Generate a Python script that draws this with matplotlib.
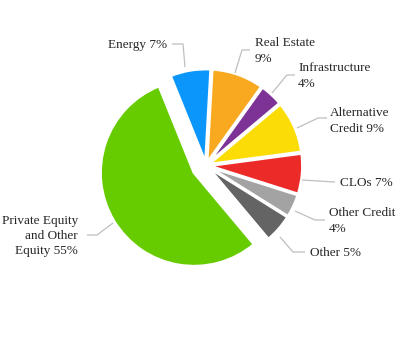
import matplotlib
matplotlib.use("Agg")
import matplotlib.pyplot as plt

categories = ["Energy", "Real Estate", "Infrastructure", "Alternative Credit",
              "CLOs", "Other Credit", "Other", "Private Equity and Other Equity"]
values = [7, 9, 4, 9, 7, 4, 5, 55]
label_texts = ["Energy 7%", "Real Estate\n9%", "Infrastructure\n4%", "Alternative\nCredit 9%",
               "CLOs 7%", "Other Credit\n4%", "Other 5%", "Private Equity\nand Other\nEquity 55%"]
colors = ["#0A96FA", "#F8A91F", "#7D3295", "#FBDD05", "#EC2A27", "#A3A3A3", "#646464", "#66CC00"]

W, H = 404, 340
fig = plt.figure(figsize=(W / 100, H / 100), dpi=100)
ax = fig.add_axes([0, 0, 1, 1])

cx, cy = 206, H - 165.5
R = 93.5
explode = [3] * 7 + [14]   # offsets in pixel units (data units here)
ax.pie(values, colors=colors, startangle=112, counterclock=False, radius=R,
       center=(cx, cy), explode=explode, frame=True,
       wedgeprops=dict(edgecolor="white", linewidth=2.0))
ax.set_xlim(0, W)
ax.set_ylim(0, H)
ax.set_aspect("equal")
ax.axis("off")

# label positions (pixel, y from top): (x, y_center, ha, leader points)
layout = [
    (167, 45, "right", [(172, 44), (183, 44), (185, 67)]),
    (255, 51, "left", [(250, 50), (242, 50), (235, 73)]),
    (298, 76, "left", [(295, 75), (287, 75), (272, 93)]),
    (330, 121, "left", [(327, 118), (318, 118), (297, 128)]),
    (340, 183, "left", [(335, 182), (302, 180)]),
    (329, 221, "left", [(325, 220), (315, 220), (295, 211)]),
    (310, 253, "left", [(305, 252), (293, 252), (280, 237)]),
    (78, 236, "right", [(87, 235), (97, 235), (113, 223)]),
]
for txt, (x, y, ha, pts) in zip(label_texts, layout):
    ax.text(x, H - y, txt, ha=ha, va="center", fontsize=9.5,
            family="Liberation Serif", color="#262626", linespacing=1.38,
            multialignment=ha)
    xs = [p[0] for p in pts]
    ys = [H - p[1] for p in pts]
    ax.plot(xs, ys, color="#BFBFBF", linewidth=0.9, solid_capstyle="butt")

fig.savefig("out.png", dpi=100, facecolor="white")
